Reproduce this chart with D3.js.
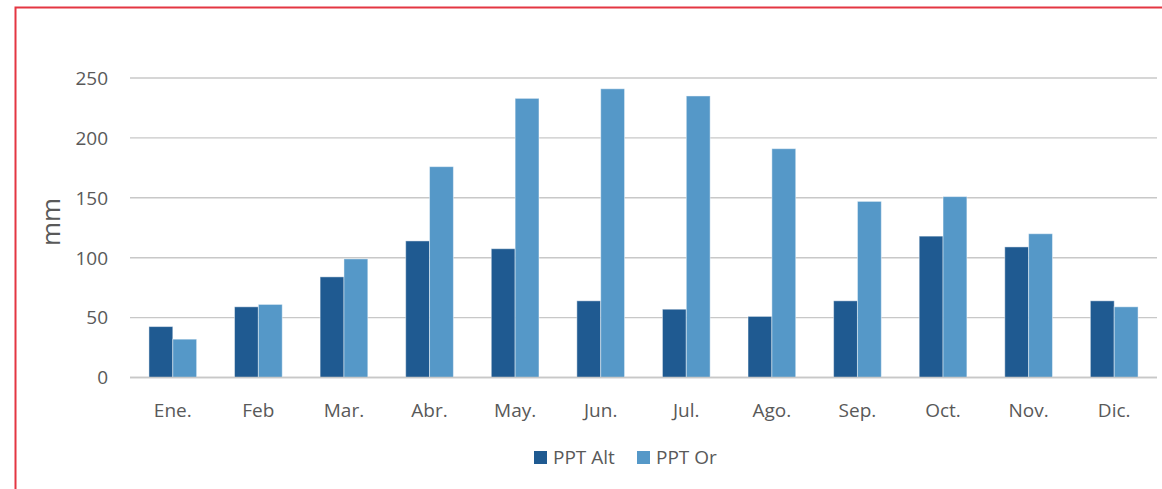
<!DOCTYPE html>
<html>
<head>
<meta charset="utf-8">
<script src="https://cdn.jsdelivr.net/npm/d3@7"></script>
<style>
  body { margin: 0; background: #fff; }
  text { font-family: "Open Sans", sans-serif; fill: #595959; }
</style>
</head>
<body>
<svg id="chart"></svg>
<script>
var months = ['Ene.', 'Feb', 'Mar.', 'Abr.', 'May.', 'Jun.', 'Jul.', 'Ago.', 'Sep.', 'Oct.', 'Nov.', 'Dic.'];
var seriesNames = ['PPT Alt', 'PPT Or'];
var pptAlt = [42.5, 59, 84, 114, 107.5, 64, 57, 51, 64, 118, 109, 64];
var pptOr = [32, 61, 99, 176, 233, 241, 235, 191, 147, 151, 120, 59];
var yTicks = [0, 50, 100, 150, 200, 250];
var colors = ['#1f5a91', '#5598c8'];

var width = 1162;
var height = 489;

var svg = d3.select('#chart')
  .attr('width', width)
  .attr('height', height);

// red frame, cut off at the right and bottom like the original screenshot
svg.append('rect')
  .attr('x', 15.5)
  .attr('y', 7.5)
  .attr('width', 1200)
  .attr('height', 600)
  .attr('fill', 'none')
  .attr('stroke', '#e43642')
  .attr('stroke-width', 2);

var plot = { left: 130, right: 1157, top: 78, bottom: 377.5 };

var x = d3.scaleBand()
  .domain(months)
  .range([plot.left, plot.right])
  .paddingInner(0)
  .paddingOuter(0);

var y = d3.scaleLinear()
  .domain([0, 250])
  .range([plot.bottom, plot.top]);

var groupWidth = 47.7;
var x1 = d3.scaleBand()
  .domain(seriesNames)
  .range([(x.bandwidth() - groupWidth) / 2, (x.bandwidth() + groupWidth) / 2]);

// gridlines
svg.append('g')
  .selectAll('line')
  .data(yTicks)
  .join('line')
  .attr('x1', plot.left)
  .attr('x2', plot.right)
  .attr('y1', function(d) { return y(d); })
  .attr('y2', function(d) { return y(d); })
  .attr('stroke', '#c8c8c8')
  .attr('stroke-width', 1.4);

// y tick labels
svg.append('g')
  .selectAll('text')
  .data(yTicks)
  .join('text')
  .attr('x', 108)
  .attr('y', function(d) { return y(d); })
  .attr('dy', '0.36em')
  .attr('text-anchor', 'end')
  .style('font-size', '19px')
  .text(function(d) { return d; });

// bars
var rows = months.map(function(m, i) {
  return { month: m, values: [pptAlt[i], pptOr[i]] };
});

var groups = svg.append('g')
  .selectAll('g')
  .data(rows)
  .join('g')
  .attr('transform', function(d) { return 'translate(' + x(d.month) + ',0)'; });

groups.selectAll('rect')
  .data(function(d) {
    return d.values.map(function(v, j) { return { name: seriesNames[j], value: v, color: colors[j] }; });
  })
  .join('rect')
  .attr('x', function(d) { return x1(d.name); })
  .attr('width', x1.bandwidth())
  .attr('y', function(d) { return y(d.value); })
  .attr('height', function(d) { return y(0) - y(d.value); })
  .attr('fill', function(d) { return d.color; })
  .attr('stroke', 'rgba(255,255,255,0.45)')
  .attr('stroke-width', 1);

// baseline on top of bars
svg.append('line')
  .attr('x1', plot.left)
  .attr('x2', plot.right)
  .attr('y1', y(0))
  .attr('y2', y(0))
  .attr('stroke', '#c8c8c8')
  .attr('stroke-width', 1.4);

// x labels
svg.append('g')
  .selectAll('text')
  .data(months)
  .join('text')
  .attr('x', function(d) { return x(d) + x.bandwidth() / 2; })
  .attr('y', 416.5)
  .attr('text-anchor', 'middle')
  .style('font-size', '19px')
  .text(function(d) { return d; });

// y axis title
svg.append('text')
  .attr('transform', 'translate(60,222) rotate(-90)')
  .attr('text-anchor', 'middle')
  .style('font-size', '26px')
  .text('mm');

// legend
var legendItems = [
  { name: seriesNames[0], color: colors[0], x: 534 },
  { name: seriesNames[1], color: colors[1], x: 637 }
];
var legend = svg.append('g')
  .selectAll('g')
  .data(legendItems)
  .join('g')
  .attr('transform', function(d) { return 'translate(' + d.x + ',451)'; });

legend.append('rect')
  .attr('width', 13)
  .attr('height', 13)
  .attr('fill', function(d) { return d.color; });

legend.append('text')
  .attr('x', 19)
  .attr('y', 6.5)
  .attr('dy', '0.36em')
  .style('font-size', '19px')
  .text(function(d) { return d.name; });
</script>
</body>
</html>
